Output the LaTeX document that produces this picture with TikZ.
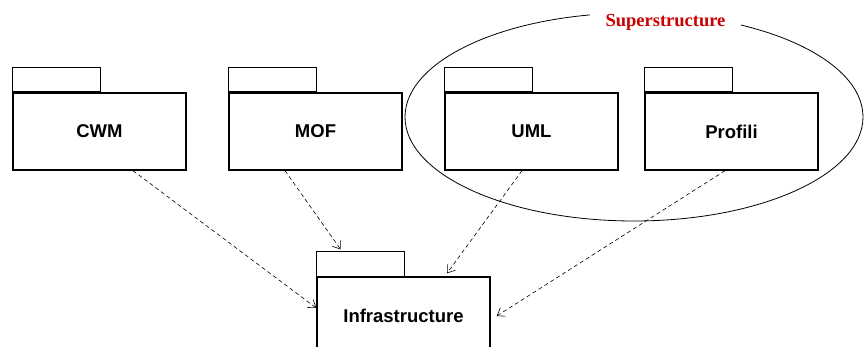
\documentclass[tikz,border=0pt]{standalone}
\usepackage{fontspec}
\setmainfont{Liberation Sans}
\newfontfamily\serifbold{Liberation Serif}
\usetikzlibrary{arrows.meta}
\definecolor{superred}{RGB}{204,0,0}
\begin{document}
\begin{tikzpicture}[x=1pt,y=-1pt,
  pkgbody/.style={draw, line width=1.4pt, minimum width=173pt, minimum height=77pt, inner sep=0pt, font=\fontsize{18.5}{20}\selectfont\bfseries},
  pkgtab/.style={draw, line width=0.8pt, minimum width=88pt, minimum height=24pt, inner sep=0pt, anchor=south west},
  dep/.style={draw, line width=0.6pt, dash pattern=on 4pt off 3pt, -{Straight Barb[length=7pt,width=10pt,line width=0.6pt]}}]
\useasboundingbox (0,0) rectangle (864,347);
\begin{scope}
\clip (0,0) rectangle (864,347);
% packages
\node[pkgbody] (cwm) at (99.5,131.5) {CWM};
\node[pkgtab] (cwmtab) at (cwm.north west) {};
\node[pkgbody] (mof) at (315.5,131.5) {MOF};
\node[pkgtab] (moftab) at (mof.north west) {};
\node[pkgbody] (uml) at (531.5,131.5) {UML};
\node[pkgtab] (umltab) at (uml.north west) {};
\node[pkgbody] (profili) at (731.5,131.5) {Profili};
\node[pkgtab] (profilitab) at (profili.north west) {};
\node[pkgbody] (infra) at (403.5,315.5) {Infrastructure};
\node[pkgtab] (infratab) at (infra.north west) {};
% superstructure ellipse
\draw[line width=0.8pt] (634,117) ellipse [x radius=229pt, y radius=104pt];
\node[fill=white, inner xsep=16pt, inner ysep=2pt, text=superred, font=\serifbold\fontsize{18.5}{20}\selectfont\bfseries] (suplabel) at (665.5,22) {Superstructure};
% dependencies
\draw[dep] ([xshift=33.5pt]cwm.south) -- ([yshift=7.5pt]infra.west);
\draw[dep] ([xshift=-30.5pt]mof.south) -- ([xshift=-20pt,yshift=2pt]infratab.north);
\draw[dep] ([xshift=-9.5pt]uml.south) -- ([xshift=43.5pt,yshift=3pt]infra.north);
\draw[dep] ([xshift=-6.5pt]profili.south) -- ([xshift=6pt,yshift=-0.5pt]infra.east);
\end{scope}
\end{tikzpicture}
\end{document}
